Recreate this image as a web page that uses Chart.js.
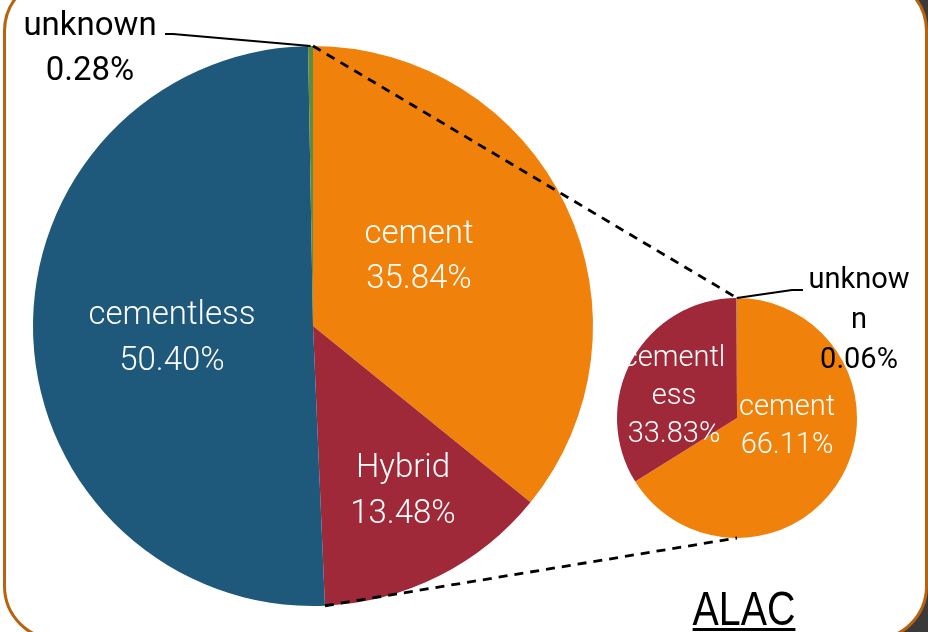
<!DOCTYPE html>
<html>
<head>
<meta charset="utf-8">
<script src="https://cdn.jsdelivr.net/npm/chart.js@4.4.0/dist/chart.umd.min.js"></script>
<style>
  html, body { margin: 0; padding: 0; width: 928px; height: 632px; overflow: hidden;
    background: linear-gradient(to right, #fff 50%, #3a3a3a 50%); }
  #frame { position: absolute; left: 3px; top: -24px; width: 925px; height: 665px; box-sizing: border-box;
    border: 3px solid #b9630f; border-radius: 55px; background: #fff; }
  canvas { position: absolute; left: 0; top: 0; }
</style>
</head>
<body>
<div id="frame"></div>
<canvas id="mainPie" width="928" height="632"></canvas>
<canvas id="subPie" width="928" height="632"></canvas>
<script>
// data
const mainLabels = ['cement', 'Hybrid', 'cementless', 'unknown'];
const mainValues = [35.84, 13.48, 50.40, 0.28];
const subLabels = ['cement', 'cementless', 'unknown'];
const subValues = [66.11, 33.83, 0.06];
const chartTitle = 'ALAC';

// styling
const mainColors = ['#f0820b', '#9f2839', '#1e587a', '#5b8c3f'];
const subColors = ['#f0820b', '#9f2839', '#8c8c8c'];
const mainLines = [['cement'], ['Hybrid'], ['cementless'], ['unknown']];
const subLines = [['cement'], ['cementl', 'ess'], ['unknow', 'n']];
// label block offsets from pie centre: [dx, dy of first baseline, text colour, line height]
const mainLabelPos = [[106, -83, '#fff', 45], [90, 151, '#fff', 46], [-141, -2, '#fff', 46], [-223, -291, '#000', 45]];
const subLabelPos = [[50, -3, '#fff', 38], [-63, -52, '#fff', 38], [122, -130, '#000', 40]];

function drawSliceLabels(chart, lines, values, pos, fontSize) {
    const ctx = chart.ctx;
    const arc = chart.getDatasetMeta(0).data[0];
    ctx.save();
    ctx.textAlign = 'center';
    ctx.textBaseline = 'alphabetic';
    values.forEach((v, i) => {
        const [dx, dy, col, lh] = pos[i];
        const all = lines[i].concat([v.toFixed(2) + '%']);
        ctx.fillStyle = col;
        // white labels on the slices are a lighter face than the black ones outside
        ctx.font = (col === '#fff' ? '300 ' : '400 ') + fontSize + 'px Roboto';
        all.forEach((t, k) => ctx.fillText(t, arc.x + dx, arc.y + dy + k * lh));
    });
    ctx.restore();
}

function edgePoint(arc, angle) {
    return [arc.x + arc.outerRadius * Math.cos(angle), arc.y + arc.outerRadius * Math.sin(angle)];
}

function polyline(ctx, pts) {
    ctx.beginPath();
    ctx.moveTo(pts[0][0], pts[0][1]);
    for (let i = 1; i < pts.length; i++) ctx.lineTo(pts[i][0], pts[i][1]);
    ctx.stroke();
}

function pieOptions(padding) {
    return {
        responsive: false,
        animation: false,
        events: [],
        layout: { padding: padding },
        plugins: { legend: { display: false }, tooltip: { enabled: false } }
    };
}

const mainChart = new Chart(document.getElementById('mainPie'), {
    type: 'pie',
    data: {
        labels: mainLabels,
        datasets: [{ data: mainValues, backgroundColor: mainColors, borderWidth: 0, hoverOffset: 0 }]
    },
    options: pieOptions({ left: 33, top: 46, right: 335, bottom: 26 }),
    plugins: [{
        id: 'mainText',
        afterDraw(chart) {
            drawSliceLabels(chart, mainLines, mainValues, mainLabelPos, 33);
            // leader line for the tiny 'unknown' slice
            const a = chart.getDatasetMeta(0).data[3];
            const p = edgePoint(a, (a.startAngle + a.endAngle) / 2);
            const ctx = chart.ctx;
            ctx.save();
            ctx.strokeStyle = '#000';
            ctx.lineWidth = 2;
            polyline(ctx, [p, [a.x - 140, a.y - 292], [a.x - 148, a.y - 292]]);
            ctx.restore();
        }
    }]
});

const subChart = new Chart(document.getElementById('subPie'), {
    type: 'pie',
    data: {
        labels: subLabels,
        datasets: [{ data: subValues, backgroundColor: subColors, borderWidth: 0, hoverOffset: 0 }]
    },
    options: pieOptions({ left: 617, top: 298, right: 71, bottom: 94 }),
    plugins: [{
        id: 'subText',
        afterDraw(chart) {
            drawSliceLabels(chart, subLines, subValues, subLabelPos, 29);
            const ctx = chart.ctx;
            const meta = chart.getDatasetMeta(0);
            const s = meta.data[2];
            const p = edgePoint(s, (s.startAngle + s.endAngle) / 2);
            ctx.save();
            ctx.strokeStyle = '#000';
            ctx.lineWidth = 2;
            polyline(ctx, [p, [s.x + 55, s.y - 128], [s.x + 66, s.y - 128]]);

            // connector lines between the two pies
            const big = mainChart.getDatasetMeta(0).data;
            const small = meta.data[0];
            ctx.setLineDash([9, 7]);
            ctx.lineWidth = 2.8;
            polyline(ctx, [edgePoint(big[0], big[0].startAngle), edgePoint(small, -Math.PI / 2)]);
            polyline(ctx, [edgePoint(big[1], big[1].endAngle), edgePoint(small, Math.PI / 2)]);
            ctx.setLineDash([]);

            // title, narrowed to match the condensed face
            ctx.fillStyle = '#000';
            ctx.font = '48px "Liberation Sans", Arial, sans-serif';
            ctx.textAlign = 'center';
            const w = ctx.measureText(chartTitle).width * 0.82;
            ctx.save();
            ctx.translate(744, 625);
            ctx.scale(0.82, 1);
            ctx.fillText(chartTitle, 0, 0);
            ctx.restore();
            ctx.fillRect(744 - w / 2, 628, w, 3);
            ctx.restore();
        }
    }]
});
</script>
</body>
</html>
